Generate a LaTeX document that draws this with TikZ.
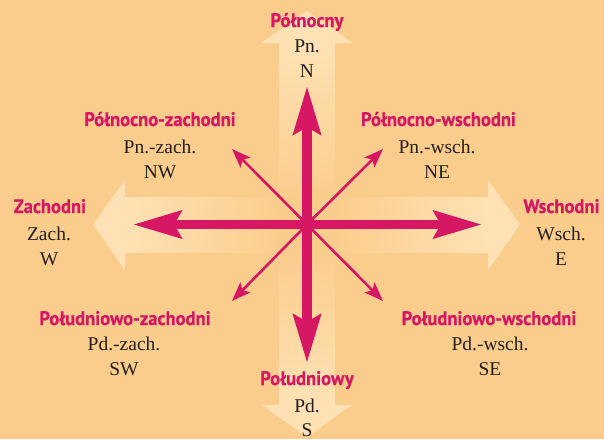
\documentclass[tikz,border=0pt]{standalone}
\usepackage{fontspec}
\setmainfont{Liberation Serif}
\newfontfamily\labfont{PT Sans}[FakeStretch=0.95,BoldFeatures={FakeBold=0.6}]
\usetikzlibrary{arrows.meta}
\definecolor{bg}{RGB}{251,205,140}
\definecolor{pale}{RGB}{254,226,181}
\definecolor{mag}{RGB}{213,23,100}
\definecolor{ink}{RGB}{35,31,32}
\tikzset{
  lab/.style={font=\labfont\bfseries\fontsize{19.5}{19.5}\selectfont, text=mag, anchor=base, inner sep=0pt},
  abbr/.style={font=\fontsize{19.5}{19.5}\selectfont, text=ink, anchor=base, inner sep=0pt},
  mainarrow/.style={draw=mag, line width=9.5pt, -{Stealth[length=48pt,width=27pt,inset=7pt]}},
  diagarrow/.style={draw=mag, line width=2.6pt, -{Stealth[length=19pt,width=14pt,inset=4pt]}},
  palehead/.style={fill=pale, draw=none},
}
\begin{document}
\begin{tikzpicture}[x=1pt,y=-1pt]
\useasboundingbox (0,0) rectangle (604,439);
\fill[bg] (0,0) rectangle (604,439);
% pale wide arrows
\fill[palehead] (307,11) -- (261,43) -- (353,43) -- cycle;
\shade[top color=pale, bottom color=bg] (279.5,43) rectangle (334.5,197);
\fill[palehead] (307,437) -- (262,405) -- (352,405) -- cycle;
\shade[top color=bg, bottom color=pale] (279.5,252) rectangle (334.5,405);
\fill[palehead] (93,224.5) -- (125,180) -- (125,270) -- cycle;
\shade[left color=pale, right color=bg] (125,197) rectangle (279.5,252);
\fill[palehead] (520,224.5) -- (488,180) -- (488,270) -- cycle;
\shade[left color=bg, right color=pale] (334.5,197) rectangle (488,252);
% coordinates
\coordinate (c) at (307,224.5);
\coordinate (tN) at (307,86);
\coordinate (tS) at (307,363);
\coordinate (tW) at (133,224.5);
\coordinate (tE) at (482,224.5);
\coordinate (tNW) at (232,149);
\coordinate (tNE) at (383,149);
\coordinate (tSW) at (232,301);
\coordinate (tSE) at (383,301);
% arrows
\draw[diagarrow] (c) -- (tNW);
\draw[diagarrow] (c) -- (tNE);
\draw[diagarrow] (c) -- (tSW);
\draw[diagarrow] (c) -- (tSE);
\draw[mainarrow] (c) -- (tN);
\draw[mainarrow] (c) -- (tS);
\draw[mainarrow] (c) -- (tW);
\draw[mainarrow] (c) -- (tE);
% labels
\node[lab] (nN) at (307,27) {Północny};
\node[abbr] (nN1) at (307,52) {Pn.};
\node[abbr] (nN2) at (307,77) {N};
\node[lab] (nS) at (307,385) {Południowy};
\node[abbr] (nS1) at (307,412) {Pd.};
\node[abbr] (nS2) at (307,436) {S};
\node[lab] (nW) at (50,213) {Zachodni};
\node[abbr] (nW1) at (49,240) {Zach.};
\node[abbr] (nW2) at (49,265) {W};
\node[lab] (nE) at (561.5,213) {Wschodni};
\node[abbr] (nE1) at (561,240) {Wsch.};
\node[abbr] (nE2) at (561,265) {E};
\node[lab] (nNW) at (160,126) {Północno-zachodni};
\node[abbr] (nNW1) at (160,153) {Pn.-zach.};
\node[abbr] (nNW2) at (160,178) {NW};
\node[lab] (nNE) at (438.5,126) {Północno-wschodni};
\node[abbr] (nNE1) at (437,153) {Pn.-wsch.};
\node[abbr] (nNE2) at (437,178) {NE};
\node[lab] (nSW) at (125,325) {Południowo-zachodni};
\node[abbr] (nSW1) at (124,350) {Pd.-zach.};
\node[abbr] (nSW2) at (124,375) {SW};
\node[lab] (nSE) at (489,325) {Południowo-wschodni};
\node[abbr] (nSE1) at (490,350) {Pd.-wsch.};
\node[abbr] (nSE2) at (490,375) {SE};
\end{tikzpicture}
\end{document}
